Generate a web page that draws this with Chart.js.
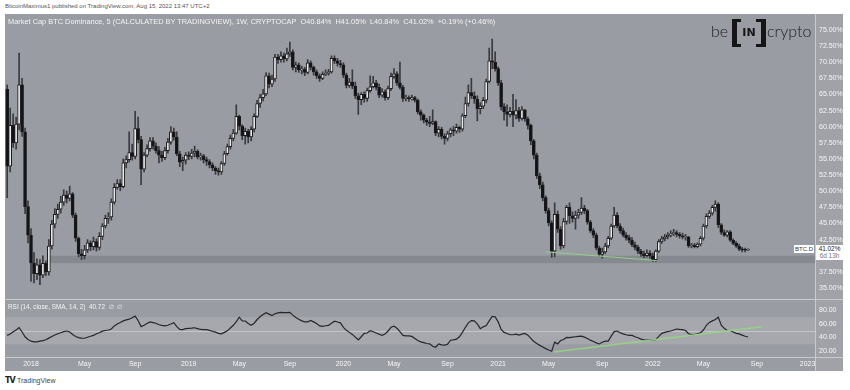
<!DOCTYPE html>
<html><head><meta charset="utf-8">
<script src="https://cdn.jsdelivr.net/npm/chart.js@4.4.0/dist/chart.umd.min.js"></script>
<style>
html,body{margin:0;padding:0;background:#fff;width:850px;height:390px;overflow:hidden;font-family:"Liberation Sans",Arial,sans-serif;}
.abs{position:absolute;white-space:nowrap;}
</style></head><body>
<div class="abs" style="left:5px;top:3px;font-size:6px;color:#555">BitcoinMaximus1 published on TradingView.com, Aug 15, 2022 13:47 UTC+2</div>
<div class="abs" style="left:5px;top:14px;width:838px;height:357px;background:#9a9ca3"></div>
<div class="abs" style="left:815px;top:14px;width:28px;height:357px;background:#a0a2a8"></div>
<canvas id="main" class="abs" style="left:5px;top:14px" width="838" height="285"></canvas>
<canvas id="rsi" class="abs" style="left:5px;top:299px" width="838" height="72"></canvas>
<div class="abs" style="left:5px;top:299px;width:838px;height:1px;background:#c9cacd"></div>
<div class="abs" style="left:5px;top:357px;width:838px;height:1px;background:#c9cacd"></div>
<div class="abs" style="left:815px;top:14px;width:1px;height:357px;background:#c9cacd"></div>
<div class="abs" style="left:8px;top:17px;font-size:7.4px;color:#f4f4f4">Market Cap BTC Dominance, 5 (CALCULATED BY TRADINGVIEW), 1W, CRYPTOCAP&nbsp; O40.84%&nbsp; H41.05%&nbsp; L40.84%&nbsp; C41.02%&nbsp; +0.19% (+0.46%)</div>
<div class="abs" style="left:8px;top:303px;font-size:6.4px;color:#f4f4f4">RSI (14, close, SMA, 14, 2)&nbsp; 40.72&nbsp; ∅&nbsp; ∅</div>
<div class="abs" style="left:711px;top:21px;font:300 16px Lato;color:#1b1b1b">be</div>
<div class="abs" style="left:732px;top:19px;width:24px;height:22px;border-left:5px solid #151515;border-right:5px solid #151515;border-top:3px solid #151515;border-bottom:3px solid #151515"></div>
<div class="abs" style="left:741px;top:19px;width:15px;height:3px;background:#9a9ca3"></div>
<div class="abs" style="left:741px;top:44px;width:15px;height:3px;background:#9a9ca3"></div>
<div class="abs" style="left:737px;top:26px;width:24px;text-align:center;font:900 11px 'DejaVu Sans';color:#151515">IN</div>
<div class="abs" style="left:767px;top:21px;font:300 16px Lato;color:#1b1b1b">crypto</div>
<div id="symBox" class="abs" style="left:794px;top:252px;width:20px;height:8px;background:#fff;font-size:6px;line-height:8px;color:#333;text-align:center">BTC.D</div>
<div id="priceBox" class="abs" style="left:816px;top:252px;width:27px;height:15px;background:#fff;font-size:6.4px;line-height:7px;color:#222;text-align:center">41.02%<br><span style="color:#777">6d 13h</span></div>
<div class="abs" style="left:5px;top:376px;font:bold 8px 'DejaVu Sans';color:#222;letter-spacing:-1px">TV</div>
<div class="abs" style="left:17px;top:377px;font-size:7px;color:#444">TradingView</div>
<script>
// ---- data (weekly candles, first week = 2017-11-06) ----
const weekStart = '2017-11-06';
const opens = [65.8,53.9,60.2,57.5,60.4,66.5,59.2,47.6,43.2,38.9,
37.2,38.6,37.0,38.8,37.5,41.5,44.9,46.4,47.2,48.3,
49.4,48.9,49.6,46.3,42.7,40.3,40.0,40.9,42.0,41.4,
42.2,41.3,43.0,44.6,45.8,46.0,48.3,50.6,51.2,50.7,
54.4,54.9,56.0,55.4,59.7,58.0,53.4,55.6,56.6,57.8,
57.0,56.3,55.6,55.2,56.3,57.6,59.2,58.4,55.8,54.5,
54.8,55.6,55.4,55.9,56.2,55.3,55.5,54.9,54.6,54.1,
53.6,53.2,53.0,54.3,55.8,56.9,58.2,59.0,61.6,60.1,
58.6,59.3,58.4,59.6,61.6,63.6,64.5,65.1,67.9,66.6,
67.4,70.8,70.4,71.0,70.5,71.3,71.6,69.2,69.6,68.8,
68.9,68.4,69.9,69.2,68.5,67.9,67.5,68.1,68.3,68.5,
70.6,70.2,69.8,69.6,68.0,66.4,66.9,66.3,64.8,64.2,
65.0,64.4,65.6,66.2,66.8,66.1,64.9,65.4,64.5,65.9,
67.8,68.2,66.8,66.1,64.4,64.5,64.3,64.5,64.1,62.3,
61.8,61.0,60.7,60.5,60.8,59.0,59.6,58.5,58.2,58.9,
59.5,59.3,59.9,59.6,61.7,63.6,65.3,64.8,64.3,62.8,
63.2,64.1,67.0,70.2,70.0,69.0,66.8,63.1,62.3,61.9,
62.4,61.8,62.5,61.3,62.6,61.2,60.2,57.8,55.6,52.4,
51.0,49.0,47.0,45.1,40.7,46.4,44.1,41.5,45.3,47.5,
46.2,45.8,46.3,46.7,47.4,47.0,45.2,43.9,43.2,41.2,
40.2,40.6,41.5,42.7,44.6,46.3,44.6,43.9,43.2,42.8,
42.4,41.7,41.3,40.7,40.3,40.0,40.4,40.0,39.4,40.7,
42.2,42.6,42.9,43.2,43.4,43.6,43.3,43.1,42.9,42.9,
41.5,41.6,41.4,41.8,42.7,44.6,46.1,46.6,47.5,48.0,
44.8,43.6,43.2,43.7,42.4,41.9,41.5,41.0,40.9,40.84];
const highs = [66.5,62.9,62.0,61.5,71.4,67.5,59.8,48.5,44.2,40.5,
39.5,39.4,40.0,39.2,42.5,45.5,47.3,48.0,49.2,50.2,
50.0,50.8,49.8,46.6,42.9,41.0,41.6,42.5,42.3,42.9,
42.6,43.6,45.0,46.3,46.7,48.8,51.2,51.8,51.8,55.0,
55.5,59.2,57.3,62.4,61.5,58.5,56.0,57.2,58.3,58.3,
57.5,56.9,56.2,56.8,58.2,60.0,59.8,59.2,56.2,55.3,
56.0,56.1,56.5,57.0,56.4,55.9,55.7,55.3,54.9,54.4,
53.8,53.6,54.6,56.2,57.3,58.7,59.6,63.4,61.8,60.3,
59.8,59.6,60.0,62.0,64.1,65.0,65.8,68.4,68.3,68.0,
71.2,71.2,71.6,71.4,72.2,73.1,71.9,70.0,69.9,69.4,
69.2,70.4,70.2,69.4,68.8,68.2,68.5,68.8,68.9,71.0,
71.0,70.6,70.3,69.9,68.3,67.5,68.8,66.9,65.2,65.3,
65.4,66.0,67.9,67.8,67.2,66.6,65.9,65.7,66.3,68.3,
69.0,68.5,70.0,66.4,64.9,64.8,64.9,64.7,64.3,62.6,
62.0,61.3,61.6,62.6,60.9,60.0,59.9,58.9,59.3,59.8,
60.0,60.4,60.1,62.0,64.6,66.5,67.5,65.4,64.8,63.7,
64.5,67.4,72.2,73.6,71.6,69.3,67.2,63.6,63.4,63.0,
65.0,64.2,63.0,63.1,62.7,61.5,60.4,58.0,55.9,52.8,
51.4,49.3,47.4,45.4,48.2,46.9,44.5,45.8,47.8,48.2,
46.8,46.9,47.2,49.0,47.8,47.2,45.5,44.2,43.5,41.5,
41.2,41.9,43.0,44.9,47.5,46.7,45.0,44.3,43.6,43.2,
42.8,42.1,41.6,41.0,40.7,40.9,40.8,40.4,40.9,42.5,
43.0,43.3,43.6,43.9,44.1,43.9,43.6,43.5,43.3,43.0,
41.9,41.9,42.0,43.0,44.9,46.5,47.0,47.8,48.5,48.2,
45.0,44.0,43.9,43.9,42.6,42.2,41.8,41.3,41.2,41.05];
const lows = [49.0,53.0,56.8,56.5,59.5,58.5,46.5,42.0,36.0,35.8,
36.3,35.5,36.6,36.9,37.0,41.0,44.3,45.8,46.6,47.8,
48.2,48.5,45.9,42.2,39.8,39.4,39.5,40.5,40.8,40.9,
40.7,40.9,42.5,44.3,45.0,45.5,48.0,50.3,50.1,50.5,
53.6,54.5,54.8,55.0,57.5,51.0,53.0,55.3,56.2,56.5,
55.9,54.4,54.6,54.9,55.9,57.3,57.9,55.5,53.8,53.2,
54.2,54.9,55.0,55.3,55.0,54.8,54.4,54.0,53.6,53.2,
52.6,52.5,52.6,54.0,55.6,56.5,57.8,58.8,59.5,58.0,
57.3,57.5,57.8,59.2,61.4,63.0,64.0,64.8,66.0,66.2,
67.0,69.8,70.0,70.0,70.2,70.9,68.8,68.5,68.4,68.2,
67.9,68.2,68.8,68.0,67.5,67.0,67.3,67.9,68.0,68.3,
69.8,69.4,69.2,67.6,66.0,66.1,65.9,64.4,61.9,63.4,
63.8,63.9,65.3,66.0,65.7,64.5,64.6,64.1,64.2,65.6,
67.5,66.4,65.8,63.9,64.0,63.9,64.1,63.8,62.0,61.0,
60.6,60.2,60.0,60.3,58.6,58.4,58.1,57.3,57.8,58.4,
58.6,59.0,59.1,59.3,61.4,63.2,64.4,63.6,60.9,62.0,
62.8,63.7,66.8,69.0,68.6,66.4,62.6,61.0,60.1,61.5,
60.0,61.2,60.8,61.0,60.8,59.6,57.2,55.0,52.0,50.4,
48.5,46.6,44.6,39.75,39.8,43.6,41.0,41.2,44.9,45.0,
45.2,44.1,45.8,46.4,46.5,44.9,43.6,42.8,40.9,39.9,
39.6,40.3,41.2,42.5,44.4,44.3,43.5,42.9,42.4,42.0,
41.4,40.9,40.3,39.9,39.7,39.8,39.6,39.1,39.1,40.5,
41.9,42.3,42.6,42.9,43.1,42.9,42.7,42.6,42.4,41.3,
41.2,41.2,41.2,41.5,42.4,44.3,45.8,46.3,46.9,44.4,
43.3,43.0,42.9,42.2,41.7,41.3,40.8,40.6,40.6,40.84];
const closes = [53.9,60.2,57.5,60.4,66.5,59.2,47.6,43.2,38.9,37.2,
38.6,37.0,38.8,37.5,41.5,44.9,46.4,47.2,48.3,49.4,
48.9,49.6,46.3,42.7,40.3,40.0,40.9,42.0,41.4,42.2,
41.3,43.0,44.6,45.8,46.0,48.3,50.6,51.2,50.7,54.4,
54.9,56.0,55.4,59.7,58.0,53.4,55.6,56.6,57.8,57.0,
56.3,55.6,55.2,56.3,57.6,59.2,58.4,55.8,54.5,54.8,
55.6,55.4,55.9,56.2,55.3,55.5,54.9,54.6,54.1,53.6,
53.2,53.0,54.3,55.8,56.9,58.2,59.0,61.6,60.1,58.6,
59.3,58.4,59.6,61.6,63.6,64.5,65.1,67.9,66.6,67.4,
70.8,70.4,71.0,70.5,71.3,71.6,69.2,69.6,68.8,68.9,
68.4,69.9,69.2,68.5,67.9,67.5,68.1,68.3,68.5,70.6,
70.2,69.8,69.6,68.0,66.4,66.9,66.3,64.8,64.2,65.0,
64.4,65.6,66.2,66.8,66.1,64.9,65.4,64.5,65.9,67.8,
68.2,66.8,66.1,64.4,64.5,64.3,64.5,64.1,62.3,61.8,
61.0,60.7,60.5,60.8,59.0,59.6,58.5,58.2,58.9,59.5,
59.3,59.9,59.6,61.7,63.6,65.3,64.8,64.3,62.8,63.2,
64.1,67.0,70.2,70.0,69.0,66.8,63.1,62.3,61.9,62.4,
61.8,62.5,61.3,62.6,61.2,60.2,57.8,55.6,52.4,51.0,
49.0,47.0,45.1,40.7,46.4,44.1,41.5,45.3,47.5,46.2,
45.8,46.3,46.7,47.4,47.0,45.2,43.9,43.2,41.2,40.2,
40.6,41.5,42.7,44.6,46.3,44.6,43.9,43.2,42.8,42.4,
41.7,41.3,40.7,40.3,40.0,40.4,40.0,39.4,40.7,42.2,
42.6,42.9,43.2,43.4,43.6,43.3,43.1,42.9,42.9,41.5,
41.6,41.4,41.8,42.7,44.6,46.1,46.6,47.5,48.0,44.8,
43.6,43.2,43.7,42.4,41.9,41.5,41.0,40.9,40.84,41.02];
const rsiValues = [43,45,48.5,51,54.5,48,41,37,34.5,33.5,
33.5,34.5,35.3,36.5,39,41.5,43.5,45.5,47,48.5,
49.5,48,44.5,41.5,39.7,39,38.8,40.3,41.8,43,
45.5,47,49.3,50.3,51,52.5,57,60,62.2,64.5,
66,67,69,71.5,65,56,58,60.5,63,62,
61,58.7,57.8,57.2,58,59.8,61.8,56,52,51.5,
53,53.5,53.7,54.3,53,51.8,51.6,51.6,50.5,49.2,
47.8,46,45.3,47.5,49.8,54,58,63.5,69.9,64.5,
64.3,60.5,58,61,66.5,70.5,74,76.5,74.5,72.5,
75,76.2,77,76.7,76.8,77.1,73,69.5,67,64.5,
63,63,65,63,60.5,57,56.5,57.3,57.8,61,
64,62.8,61.6,55,50.5,47.5,44.5,40.5,36.5,41,
46,46.5,50,48.4,46.5,44.7,43,45,49.5,55,
56.5,53.5,48.7,43,42.2,42.2,41.5,38.5,35.5,33.5,
32.4,31,30.5,27,25.5,30.5,29.1,28.7,30,35.9,
36.5,37.5,41,47.5,55,61.5,65,64.5,60,53,
55.7,57.5,64.5,71,70.5,63,52,47.5,45.8,44,
44,45,43.5,45,46,43.3,38.5,34,31,28.3,
26,23.5,21.5,19.7,33,30.5,35.5,37,40,39.8,
40.5,41,41.5,41.8,40.5,38.5,36,34,32,30.4,
33,34.6,34.6,42,48.6,49.5,47,45.2,44,43,
43,41,39.5,37.5,36.5,35.9,35.9,35.9,36.7,41.5,
46,47.5,48.6,49.5,51,52.5,52,51.6,50.3,45.5,
44.3,44.3,45.5,47,51,58,62.2,64.5,66.5,69.9,
58,53.5,50.3,50.3,48,46,45.2,43.5,41.8,40.72];
// axis ticks (week index of first weekly bar in the month)
const timeTickWeeks = [8,26,43,61,78,95,113,130,148,165,182,200,217,234,252,269];
const timeTickLabels = ['2018','May','Sep','2019','May','Sep','2020','May','Sep','2021','May','Sep','2022','May','Sep','2023'];
const priceTicks = [35,37.5,40,42.5,45,47.5,50,52.5,55,57.5,60,62.5,65,67.5,70,72.5,75];
const rsiTicks = [20,40,60,80];
// drawings
const supportZone = [38.85, 40.0];
const supportZoneStartWeek = 13.7;
const greenMainX = [181, 218.3], greenMainY = [40.6, 39.25];
const greenRsiX = [183.6, 253.6], greenRsiY = [18.4, 55.8];
const rsiBand = [30, 70], rsiMid = 50;

const xMin = -0.74, xMax = 271.5;
const priceMin = 34.56, priceMax = 76.2;
const rsiMin = 11.1, rsiMax = 84.7;
const tickFont = {family:'Liberation Sans', size:7};
const tickColor = '#f6f6f6';

const zonePlugin = {
  id:'zone',
  beforeDatasetsDraw(chart){
    const {ctx, chartArea:a, scales:{x,y}} = chart;
    const x0 = x.getPixelForValue(supportZoneStartWeek);
    const y0 = y.getPixelForValue(supportZone[1]), y1 = y.getPixelForValue(supportZone[0]);
    ctx.save(); ctx.fillStyle = '#878990';
    ctx.fillRect(x0, y0, a.right - x0, y1 - y0); ctx.restore();
  }
};
const bandPlugin = {
  id:'band',
  beforeDatasetsDraw(chart){
    const {ctx, chartArea:a, scales:{y}} = chart;
    const y0 = y.getPixelForValue(rsiBand[1]), y1 = y.getPixelForValue(rsiBand[0]);
    ctx.save(); ctx.fillStyle = '#a6a8ae';
    ctx.fillRect(a.left, y0, a.width, y1 - y0);
    const ym = Math.round(y.getPixelForValue(rsiMid)) + 0.5;
    ctx.strokeStyle = '#c4c5c9'; ctx.lineWidth = 1;
    ctx.beginPath(); ctx.moveTo(a.left, ym); ctx.lineTo(a.right, ym); ctx.stroke();
    ctx.restore();
  }
};

const idx = closes.map((c,i)=>i);
const mainChart = new Chart(document.getElementById('main'), {
  type:'bar',
  data:{datasets:[
    {type:'bar', data: idx.map(i=>({x:i, y:[lows[i], highs[i]]})), backgroundColor:'#3a3b40',
     barThickness:1, grouped:false, order:3},
    {type:'bar', data: idx.map(i=>({x:i, y:[opens[i], closes[i]]})),
     backgroundColor: ctx => (closes[ctx.dataIndex] >= opens[ctx.dataIndex] ? '#e9e9ea' : '#131316'),
     borderColor:'#1c1c1f', borderWidth:1, borderSkipped:false, barThickness:3, minBarLength:1,
     grouped:false, order:2},
    {type:'line', data: greenMainX.map((v,i)=>({x:v, y:greenMainY[i]})), borderColor:'#8fd08a',
     borderWidth:1, pointRadius:0, order:1}
  ]},
  options:{
    responsive:false, animation:false, devicePixelRatio:1,
    layout:{padding:0, autoPadding:false},
    plugins:{legend:{display:false}, tooltip:{enabled:false}},
    scales:{
      x:{type:'linear', min:xMin, max:xMax, display:false, offset:false},
      y:{position:'right', min:priceMin, max:priceMax,
         grid:{display:false, drawTicks:false}, border:{display:false},
         afterBuildTicks(s){ s.ticks = priceTicks.map(v=>({value:v})); },
         afterFit(s){ s.width = 28; },
         ticks:{color:tickColor, font:tickFont, padding:4, callback:v=>Number(v).toFixed(2)+'%'}}
    }
  },
  plugins:[zonePlugin]
});

const rsiChart = new Chart(document.getElementById('rsi'), {
  type:'line',
  data:{datasets:[
    {data: idx.map(i=>({x:i, y:rsiValues[i]})), borderColor:'#26272b', borderWidth:1.2, pointRadius:0, tension:0, order:2},
    {data: greenRsiX.map((v,i)=>({x:v, y:greenRsiY[i]})), borderColor:'rgba(150,214,130,0.9)', borderWidth:1.5, pointRadius:0, order:1}
  ]},
  options:{
    responsive:false, animation:false, devicePixelRatio:1,
    layout:{padding:0, autoPadding:false},
    plugins:{legend:{display:false}, tooltip:{enabled:false}},
    scales:{
      x:{type:'linear', min:xMin, max:xMax, grid:{display:false, drawTicks:false}, border:{display:false},
         afterBuildTicks(s){ s.ticks = timeTickWeeks.map(v=>({value:v})); },
         afterFit(s){ s.height = 14; },
         ticks:{color:tickColor, font:{family:'Liberation Sans', size:7}, padding:3, maxRotation:0, autoSkip:false,
                callback:v=>timeTickLabels[timeTickWeeks.indexOf(v)]}},
      y:{position:'right', min:rsiMin, max:rsiMax, grid:{display:false, drawTicks:false}, border:{display:false},
         afterBuildTicks(s){ s.ticks = rsiTicks.map(v=>({value:v})); },
         afterFit(s){ s.width = 28; },
         ticks:{color:tickColor, font:tickFont, padding:4, callback:v=>Number(v).toFixed(2)}}
    }
  },
  plugins:[bandPlugin]
});

// place last-price labels on the price scale
const lastY = 14 + mainChart.scales.y.getPixelForValue(closes[closes.length-1]);
document.getElementById('symBox').style.top = (lastY - 4) + 'px';
document.getElementById('priceBox').style.top = (lastY - 4) + 'px';
</script>
</body></html>
